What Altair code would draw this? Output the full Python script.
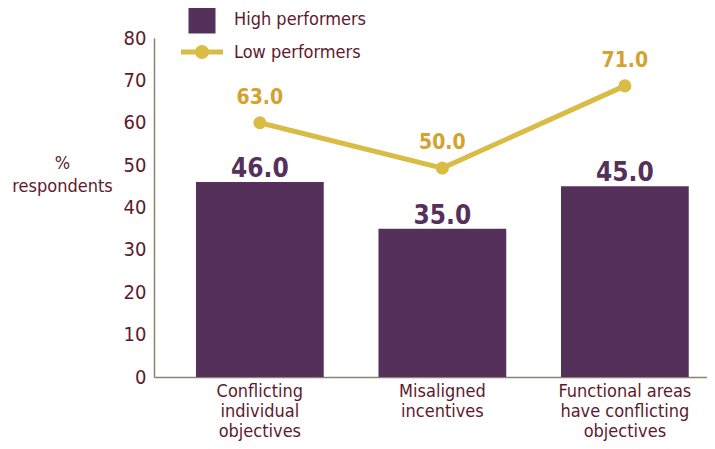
import altair as alt
import pandas as pd

# ---- data ----
categories = [
    "Conflicting\nindividual\nobjectives",
    "Misaligned\nincentives",
    "Functional areas\nhave conflicting\nobjectives",
]
high_performers = [46.0, 35.0, 45.0]
low_performers = [63.0, 50.0, 71.0]          # reported values (labels)
low_marker_pos = [60.0, 49.3, 68.7]          # where the markers sit in the picture
y_ticks = [0, 10, 20, 30, 40, 50, 60, 70, 80]

df = pd.DataFrame({
    "category": categories,
    "high": high_performers,
    "low": low_performers,
    "low_pos": low_marker_pos,
})

PURPLE = "#54305A"
GOLD = "#D9BC45"
GOLD_TEXT = "#D4A22E"
MAROON = "#5E1A2C"
AXIS = "#8C8272"
FONT = "Liberation Sans Narrow, DejaVu Sans Condensed, Roboto, sans-serif"

x_enc = alt.X(
    "category:N",
    sort=categories,
    scale=alt.Scale(paddingInner=0.3, paddingOuter=0.165, align=0.697),
    axis=alt.Axis(
        title=None, labelAngle=0, ticks=False, labelPadding=5,
        labelExpr="split(datum.label, '\\n')", labelLineHeight=20,
        labelFontSize=18, labelColor=MAROON, labelFont=FONT,
        domainColor=AXIS, domainWidth=1.5,
    ),
)
y_scale = alt.Scale(domain=[0, 80], nice=False)

base = alt.Chart(df).encode(x=x_enc)

bars = base.mark_bar(color=PURPLE).encode(
    y=alt.Y(
        "high:Q", scale=y_scale,
        axis=alt.Axis(
            values=y_ticks, grid=False, ticks=False, labelPadding=8,
            labelFontSize=20, labelColor=MAROON, labelFont=FONT,
            domainColor=AXIS, domainWidth=1.5,
            title=["%", "respondents"], titleAngle=0, titleAlign="center",
            titleBaseline="top", titleX=-92, titleY=116, titleFontSize=18,
            titleFontWeight="normal", titleColor=MAROON, titleFont=FONT,
            titleLineHeight=23,
        ),
    )
)
bar_text = base.mark_text(
    dy=-5, baseline="alphabetic", fontSize=26, fontWeight="bold",
    color=PURPLE, font=FONT,
).encode(y=alt.Y("high:Q", scale=y_scale), text=alt.Text("high:Q", format=".1f"))

line = base.mark_line(color=GOLD, strokeWidth=5).encode(
    y=alt.Y("low_pos:Q", scale=y_scale)
)
points = base.mark_circle(color=GOLD, size=170, opacity=1).encode(
    y=alt.Y("low_pos:Q", scale=y_scale)
)
line_text = base.mark_text(
    dy=-19, baseline="alphabetic", fontSize=21, fontWeight="bold",
    color=GOLD_TEXT, font=FONT,
).encode(y=alt.Y("low_pos:Q", scale=y_scale), text=alt.Text("low:Q", format=".1f"))

# ---- legend ----
leg_df = pd.DataFrame({"high": ["High performers"], "low": ["Low performers"]})
leg = alt.Chart(leg_df)
leg_square = leg.mark_square(color=PURPLE, size=729, opacity=1).encode(
    x=alt.value(48), y=alt.value(-18)
)
leg_high = leg.mark_text(
    align="left", baseline="middle", fontSize=18, color=MAROON, font=FONT
).encode(x=alt.value(80), y=alt.value(-18), text="high:N")
leg_line = leg.mark_rule(color=GOLD, strokeWidth=5).encode(
    x=alt.value(27), x2=alt.value(69), y=alt.value(14)
)
leg_point = leg.mark_circle(color=GOLD, size=200, opacity=1).encode(
    x=alt.value(48), y=alt.value(14)
)
leg_low = leg.mark_text(
    align="left", baseline="middle", fontSize=18, color=MAROON, font=FONT
).encode(x=alt.value(80), y=alt.value(15), text="low:N")

chart = alt.layer(
    bars, bar_text, line, points, line_text,
    leg_square, leg_high, leg_line, leg_point, leg_low,
).properties(
    width=553, height=339,
    padding={"left": 146, "top": 30, "right": 0, "bottom": 64},
    autosize=alt.AutoSizeParams(type="none"),
    background="white",
).configure_view(stroke=None)

chart.save("out.html", embed_options={"renderer": "svg", "actions": False})
